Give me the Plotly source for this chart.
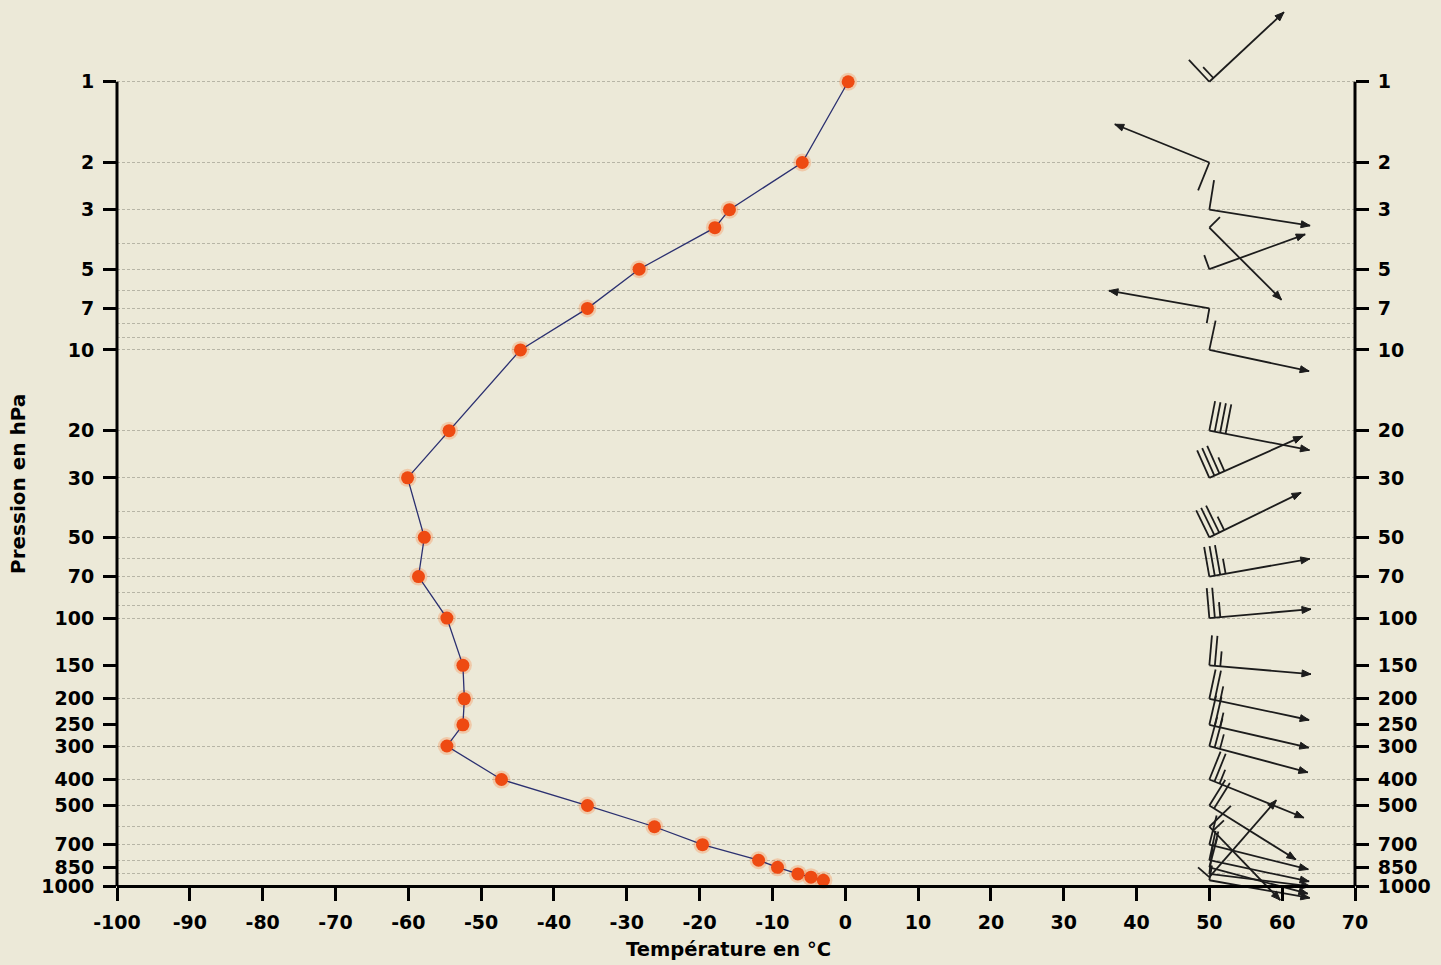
import math
import plotly.graph_objects as go

# ---------------- sounding data ----------------
pressure_hpa = [1, 2, 3, 3.5, 5, 7, 10, 20, 30, 50, 70, 100, 150, 200, 250, 300,
                400, 500, 600, 700, 800, 850, 900, 925, 950]
temperature_c = [0.4, -5.9, -15.9, -17.9, -28.3, -35.4, -44.6, -54.4, -60.1, -57.8,
                 -58.6, -54.7, -52.5, -52.3, -52.5, -54.7, -47.2, -35.4, -26.2, -19.6,
                 -11.9, -9.3, -6.5, -4.7, -3.0]

# wind profile: direction the wind blows from (deg) and speed (kt)
wind_pressure_hpa = [1, 2, 3, 3.5, 5, 7, 10, 20, 30, 50, 70, 100, 150, 200, 250, 300,
                     400, 500, 600, 700, 800, 850, 900, 925, 950]
wind_dir_deg = [227, 112, 279, 315, 250, 100, 282, 281, 246, 244, 260, 265, 275, 282,
                283, 285, 292, 302, 316, 284, 282, 285, 277, 221, 280]
wind_speed_kt = [15, 10, 10, 5, 5, 5, 10, 40, 35, 35, 35, 25, 25, 25, 25, 25,
                 25, 20, 15, 15, 10, 10, 10, 5, 5]
wind_column_x = 50

# ---------------- axes ----------------
pressure_ticks = [1, 2, 3, 5, 7, 10, 20, 30, 50, 70, 100, 150, 200, 250, 300,
                  400, 500, 700, 850, 1000]
grid_levels = list(range(1, 11)) + list(range(20, 101, 10)) + list(range(200, 1001, 100))
temp_ticks = list(range(-100, 71, 10))

W, H = 1441, 965
M_L, M_R, M_T, M_B = 117, 86, 4, 60
X_RANGE = [-100, 70]
LOG_TOP, LOG_BOTTOM = -0.29, 3.07          # log10(hPa) at top / bottom of the plot area
P_MIN, P_MAX = 1, 1000

BG = "#ECE9D8"
FONT = "DejaVu Sans"

px_per_x = (W - M_L - M_R) / (X_RANGE[1] - X_RANGE[0])
px_per_decade = (H - M_T - M_B) / (LOG_BOTTOM - LOG_TOP)


def offset(x0, p0, dx_px, dy_px):
    """Move a point (x, hPa) by a screen offset given in pixels."""
    return (x0 + dx_px / px_per_x,
            10 ** (math.log10(p0) + dy_px / px_per_decade))


# ---------------- wind barbs ----------------
SHAFT = 102
FULL, HALF, STEP = 30, 15, 5.5
HEAD_LEN, HEAD_W = 9, 3.5

bx, by = [], []
hx, hy = [], []
for p, d, s in zip(wind_pressure_hpa, wind_dir_deg, wind_speed_kt):
    bearing = math.radians((d + 180) % 360)
    ux, uy = math.sin(bearing), -math.cos(bearing)
    nx, ny = uy, -ux
    tip = (ux * SHAFT, uy * SHAFT)
    for px, py in [(0, 0), tip]:
        x, y = offset(wind_column_x, p, px, py)
        bx.append(x)
        by.append(y)
    bx.append(None)
    by.append(None)

    lengths = [FULL] * (s // 10) + ([HALF] if s % 10 >= 5 else [])
    for k, ln in enumerate(lengths):
        sx, sy = ux * STEP * k, uy * STEP * k
        for px, py in [(sx, sy), (sx + nx * ln, sy + ny * ln)]:
            x, y = offset(wind_column_x, p, px, py)
            bx.append(x)
            by.append(y)
        bx.append(None)
        by.append(None)

    back = (tip[0] - ux * HEAD_LEN, tip[1] - uy * HEAD_LEN)
    tri = [tip,
           (back[0] + nx * HEAD_W, back[1] + ny * HEAD_W),
           (back[0] - nx * HEAD_W, back[1] - ny * HEAD_W),
           tip]
    for px, py in tri:
        x, y = offset(wind_column_x, p, px, py)
        hx.append(x)
        hy.append(y)
    hx.append(None)
    hy.append(None)

fig = go.Figure()

fig.add_trace(go.Scatter(x=bx, y=by, mode="lines",
                         line=dict(color="#1c1c1c", width=1.8),
                         hoverinfo="skip", showlegend=False))
fig.add_trace(go.Scatter(x=hx, y=hy, mode="lines", fill="toself",
                         fillcolor="#1c1c1c", line=dict(color="#1c1c1c", width=1),
                         hoverinfo="skip", showlegend=False))

# temperature profile
fig.add_trace(go.Scatter(x=temperature_c, y=pressure_hpa, mode="markers",
                         marker=dict(size=18, color="rgba(248,130,60,0.30)"),
                         hoverinfo="skip", showlegend=False))
fig.add_trace(go.Scatter(x=temperature_c, y=pressure_hpa, mode="lines+markers",
                         line=dict(color="#2b3070", width=1.3),
                         marker=dict(size=13, color="#EE4A12"),
                         showlegend=False))

# anchor for the right-hand pressure scale
fig.add_trace(go.Scatter(x=[0], y=[1], yaxis="y2", mode="markers",
                         marker=dict(opacity=0), hoverinfo="skip", showlegend=False))

tickfont = dict(family=FONT, size=19, color="black", weight="bold")

yaxis_common = dict(
    type="log",
    range=[LOG_BOTTOM, LOG_TOP],
    tickmode="array",
    tickvals=pressure_ticks,
    ticktext=[str(v) for v in pressure_ticks],
    ticks="outside", ticklen=13, tickwidth=3, tickcolor="black",
    tickfont=tickfont,
    ticklabelstandoff=5,
    showline=False, zeroline=False,
)

fig.update_layout(
    width=W, height=H,
    margin=dict(l=M_L, r=M_R, t=M_T, b=M_B),
    paper_bgcolor=BG, plot_bgcolor=BG,
    xaxis=dict(
        range=X_RANGE,
        tickmode="array", tickvals=temp_ticks,
        ticktext=[str(v) for v in temp_ticks],
        ticks="outside", ticklen=13, tickwidth=3, tickcolor="black",
        tickfont=tickfont, ticklabelstandoff=5,
        showgrid=False, zeroline=False,
        showline=True, linewidth=3, linecolor="black",
        anchor="free",
        position=(LOG_BOTTOM - math.log10(P_MAX)) / (LOG_BOTTOM - LOG_TOP),
    ),
    yaxis=dict(
        **yaxis_common,
        showgrid=False,
        minor=dict(tickmode="array", tickvals=grid_levels, ticks="",
                   showgrid=True, gridcolor="rgba(140,138,125,0.55)",
                   gridwidth=1, griddash="3px,2px"),
    ),
    yaxis2=dict(
        **yaxis_common,
        overlaying="y", side="right", anchor="x",
        showgrid=False,
    ),
    shapes=[
        dict(type="line", xref="paper", yref="y", x0=0, x1=0,
             y0=P_MIN, y1=P_MAX,
             line=dict(color="black", width=3), layer="above"),
        dict(type="line", xref="paper", yref="y", x0=1, x1=1,
             y0=P_MIN, y1=P_MAX,
             line=dict(color="black", width=3), layer="above"),
    ],
    annotations=[
        dict(text="Pression en hPa", textangle=-90, showarrow=False,
             xref="paper", yref="y", x=(18 - M_L) / (W - M_L - M_R), y=1.5,
             xanchor="center", yanchor="middle",
             font=dict(family=FONT, size=20, color="black", weight="bold")),
        dict(text="Température en °C", showarrow=False,
             xref="paper", yref="paper",
             x=(728.5 - M_L) / (W - M_L - M_R),
             y=((H - M_B) - 950) / (H - M_T - M_B),
             xanchor="center", yanchor="middle",
             font=dict(family=FONT, size=19.5, color="black", weight="bold")),
    ],
)

fig.write_html("out.html")
